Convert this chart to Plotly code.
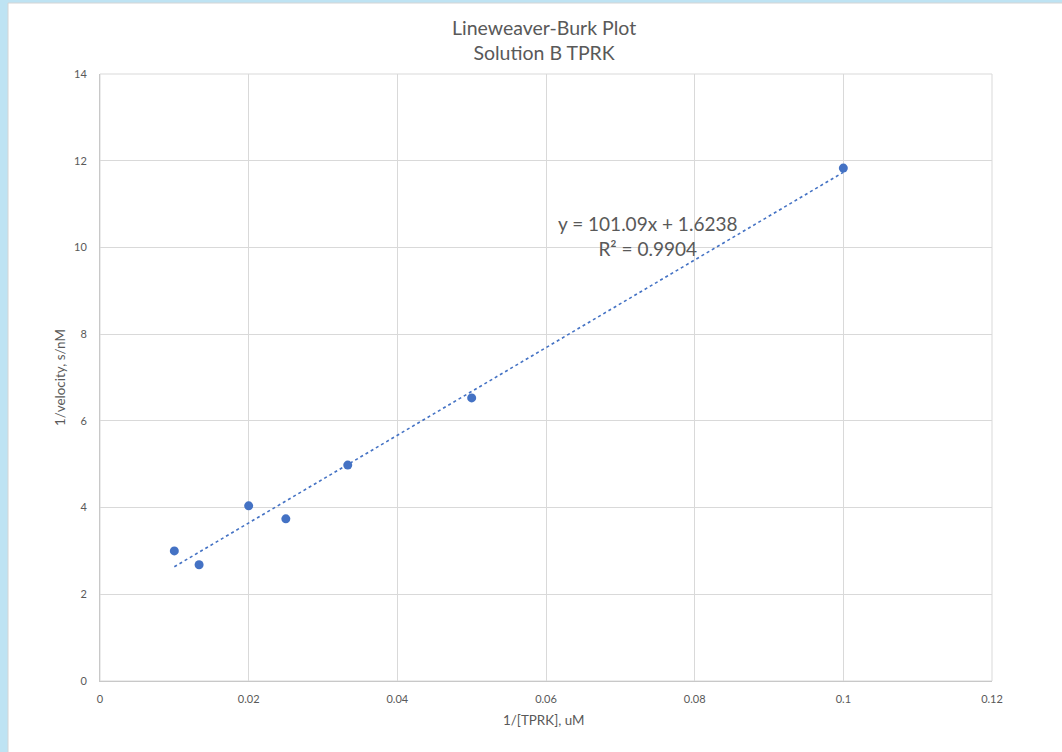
import numpy as np
import plotly.graph_objects as go

# Data
inv_tprk = [0.01, 0.01333, 0.02, 0.025, 0.03333, 0.05, 0.1]
inv_velocity = [3.00, 2.68, 4.04, 3.74, 4.98, 6.53, 11.83]
fit_slope = 101.09
fit_intercept = 1.6238
fit_r2 = 0.9904
x_ticks = [0, 0.02, 0.04, 0.06, 0.08, 0.1, 0.12]
x_tick_text = ["0", "0.02", "0.04", "0.06", "0.08", "0.1", "0.12"]
y_ticks = [0, 2, 4, 6, 8, 10, 12, 14]

FONT = "Lato, Open Sans, sans-serif"
TXT = "#595959"
BLUE = "#4472C4"

fit_x = [min(inv_tprk), max(inv_tprk)]
fit_y = [fit_slope * v + fit_intercept for v in fit_x]

fig = go.Figure()
fig.add_trace(go.Scatter(x=fit_x, y=fit_y, mode="lines",
                         line=dict(color=BLUE, width=1.6, dash="dot"),
                         hoverinfo="skip", showlegend=False))
fig.add_trace(go.Scatter(x=inv_tprk, y=inv_velocity, mode="markers",
                         marker=dict(color=BLUE, size=9),
                         showlegend=False))

W, H = 1062, 752
L, R, T, B = 100, 70, 74, 71
pw, ph = W - L - R, H - T - B

def px(x):
    return (x - L) / pw

def py(y):
    return (H - B - y) / ph

def ann(text, x, y, size, angle=0):
    return dict(text=text, xref="paper", yref="paper", x=px(x), y=py(y),
                xanchor="center", yanchor="middle", showarrow=False,
                align="center", textangle=angle,
                font=dict(size=size, color=TXT, family=FONT))

fig.update_layout(
    width=W, height=H,
    margin=dict(l=L, r=R, t=T, b=B),
    paper_bgcolor="#BEE3F3",
    plot_bgcolor="white",
    font=dict(family=FONT, color=TXT),
    xaxis=dict(range=[0, 0.12], tickvals=x_ticks, ticktext=x_tick_text,
               showgrid=True, gridcolor="#D9D9D9", gridwidth=1,
               zeroline=False, showline=True, linecolor="#C8C8C8", linewidth=1,
               mirror=False, ticks="", ticklabelstandoff=8,
               tickfont=dict(size=11, color=TXT, family=FONT)),
    yaxis=dict(range=[0, 14], tickvals=y_ticks,
               showgrid=True, gridcolor="#D9D9D9", gridwidth=1,
               zeroline=False, showline=True, linecolor="#C8C8C8", linewidth=1,
               mirror=False, ticks="", ticklabelstandoff=10,
               tickfont=dict(size=11, color=TXT, family=FONT)),
    shapes=[
        dict(type="rect", xref="paper", yref="paper",
             x0=px(8), x1=px(1070), y0=py(760), y1=py(3),
             fillcolor="white", line=dict(color="#D4D4D4", width=1),
             layer="below"),
        dict(type="rect", xref="paper", yref="paper",
             x0=0, x1=1, y0=0, y1=1,
             line=dict(color="#D9D9D9", width=1), layer="below"),
    ],
    annotations=[
        ann("Lineweaver-Burk Plot<br>Solution B TPRK", 544, 40, 19.5),
        ann("1/[TPRK], uM", 544, 720, 13.4),
        ann("1/velocity, s/nM", 60, 378, 13.4, -90),
        ann(f"y = {fit_slope}x + {fit_intercept}<br>R² = {fit_r2}", 647, 236, 19),
    ],
)

fig.write_html("out.html")
